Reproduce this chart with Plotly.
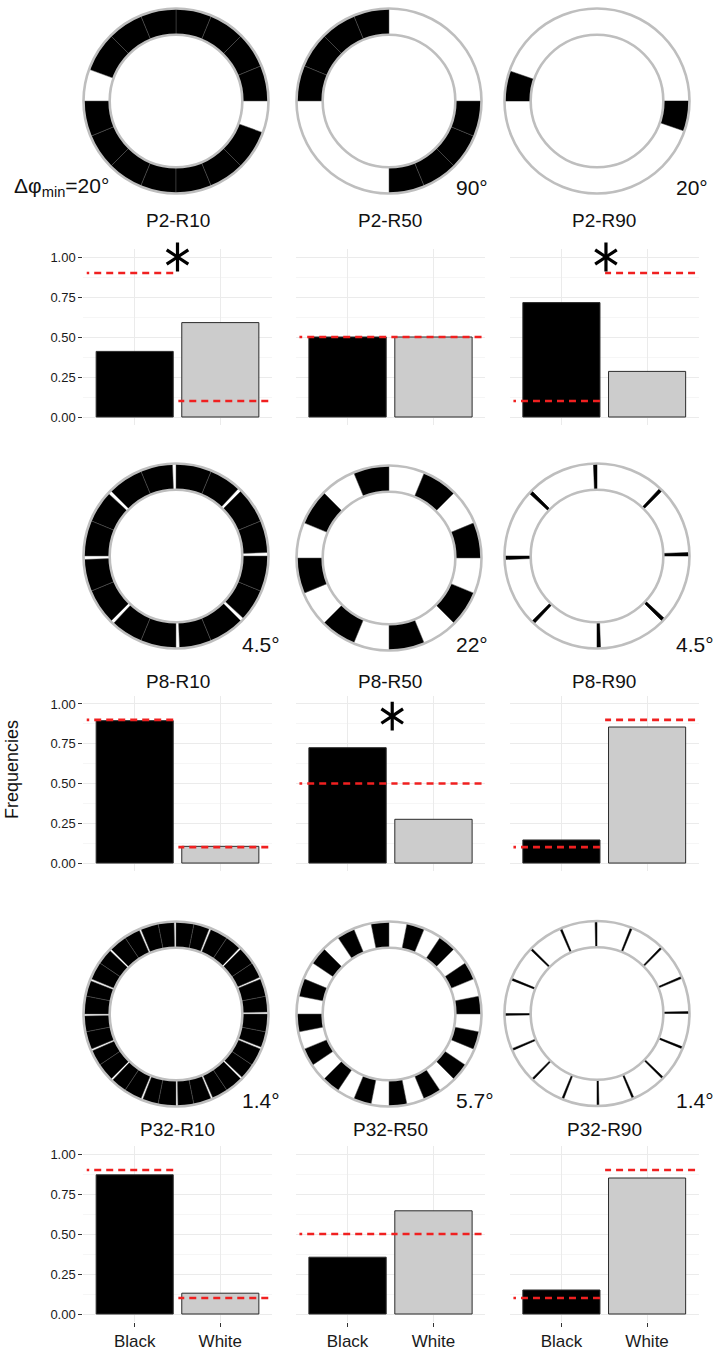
import plotly.graph_objects as go

# ---------------- data ----------------
panels = ["P2-R10", "P2-R50", "P2-R90",
          "P8-R10", "P8-R50", "P8-R90",
          "P32-R10", "P32-R50", "P32-R90"]
categories = ["Black", "White"]
black_freq = [0.41, 0.50, 0.715, 0.895, 0.725, 0.145, 0.87, 0.355, 0.15]
white_freq = [0.59, 0.50, 0.285, 0.105, 0.275, 0.855, 0.13, 0.645, 0.85]
expected_black = [0.9, 0.5, 0.1, 0.9, 0.5, 0.1, 0.9, 0.5, 0.1]
expected_white = [0.1, 0.5, 0.9, 0.1, 0.5, 0.9, 0.1, 0.5, 0.9]
significant = [True, False, True, False, True, False, False, False, False]
star_x = [1.5, 1.5, 1.52, 1.5, 1.52, 1.5, 1.5, 1.5, 1.5]
star_y = [1.0, 0.0, 1.0, 0.0, 0.924, 0.0, 0.0, 0.0, 0.0]
ring_labels = ["Δφ<sub>min</sub>=20°", "90°", "20°",
               "4.5°", "22°", "4.5°",
               "1.4°", "5.7°", "1.4°"]
y_tickvals = [0, 0.25, 0.5, 0.75, 1.0]
y_ticktext = ["0.00", "0.25", "0.50", "0.75", "1.00"]

# black ring segments (degrees, counter-clockwise from east)
p2_r10_start = [0, 22.5, 45, 67.5, 90, 112.5, 135, 180, 202.5, 225, 247.5, 270, 292.5, 315]
p2_r10_end = [22.5, 45, 67.5, 90, 112.5, 135, 160, 202.5, 225, 247.5, 270, 292.5, 315, 340]
p2_r50_start = [90, 112.5, 135, 157.5, 270, 292.5, 315, 337.5]
p2_r50_end = [112.5, 135, 157.5, 180, 292.5, 315, 337.5, 360]
p2_r90_start = [161, 341]
p2_r90_end = [180, 360]
p8_r10_start = [2.2, 22.5, 47.2, 67.5, 92.2, 112.5, 137.2, 157.5,
                182.2, 202.5, 227.2, 247.5, 272.2, 292.5, 317.2, 337.5]
p8_r10_end = [22.5, 45, 67.5, 90, 112.5, 135, 157.5, 180,
              202.5, 225, 247.5, 270, 292.5, 315, 337.5, 360]
p8_r50_start = [0, 45, 90, 135, 180, 225, 270, 315]
p8_r50_end = [22.5, 67.5, 112.5, 157.5, 202.5, 247.5, 292.5, 337.5]
p8_r90_start = [0, 45, 90, 135, 180, 225, 270, 315]
p8_r90_end = [2.2, 47.2, 92.2, 137.2, 182.2, 227.2, 272.2, 317.2]
p32_r10_start = [1.2, 11.25, 23.7, 33.75, 46.2, 56.25, 68.7, 78.75,
                 91.2, 101.25, 113.7, 123.75, 136.2, 146.25, 158.7, 168.75,
                 181.2, 191.25, 203.7, 213.75, 226.2, 236.25, 248.7, 258.75,
                 271.2, 281.25, 293.7, 303.75, 316.2, 326.25, 338.7, 348.75]
p32_r10_end = [11.25, 22.5, 33.75, 45, 56.25, 67.5, 78.75, 90,
               101.25, 112.5, 123.75, 135, 146.25, 157.5, 168.75, 180,
               191.25, 202.5, 213.75, 225, 236.25, 247.5, 258.75, 270,
               281.25, 292.5, 303.75, 315, 326.25, 337.5, 348.75, 360]
p32_r50_start = [0, 22.5, 45, 67.5, 90, 112.5, 135, 157.5,
                 180, 202.5, 225, 247.5, 270, 292.5, 315, 337.5]
p32_r50_end = [11.25, 33.75, 56.25, 78.75, 101.25, 123.75, 146.25, 168.75,
               191.25, 213.75, 236.25, 258.75, 281.25, 303.75, 326.25, 348.75]
p32_r90_start = [0, 22.5, 45, 67.5, 90, 112.5, 135, 157.5,
                 180, 202.5, 225, 247.5, 270, 292.5, 315, 337.5]
p32_r90_end = [1.2, 23.7, 46.2, 68.7, 91.2, 113.7, 136.2, 158.7,
               181.2, 203.7, 226.2, 248.7, 271.2, 293.7, 316.2, 338.7]

ring_starts = [p2_r10_start, p2_r50_start, p2_r90_start,
               p8_r10_start, p8_r50_start, p8_r90_start,
               p32_r10_start, p32_r50_start, p32_r90_start]
ring_ends = [p2_r10_end, p2_r50_end, p2_r90_end,
             p8_r10_end, p8_r50_end, p8_r90_end,
             p32_r10_end, p32_r50_end, p32_r90_end]

# ---------------- layout geometry (pixels) ----------------
W, H = 715, 1352
FONT = "Liberation Sans, Arial, Helvetica, sans-serif"
RED = "rgb(240,32,32)"


def fx(px):
    return px / W


def fy(py):
    return 1 - py / H


col_px = [(83.3, 271.7), (296.0, 485.0), (510.0, 698.5)]
row_px = [(249.0, 425.0), (696.0, 871.0), (1146.0, 1322.0)]
title_py = [220.5, 681.5, 1129.5]
ring_cx = [176.0, 389.0, 597.0]
ring_cy = [[101.0, 101.0, 101.0], [556.0, 558.0, 556.0], [1014.0, 1014.0, 1013.5]]
ring_R = 92.5
label_px = [[12, 454, 674], [240, 454, 674], [240, 454, 674]]
label_py = [187.0, 644.5, 1100.5]

fig = go.Figure()
layout = dict(
    width=W, height=H, margin=dict(l=0, r=0, t=0, b=0),
    paper_bgcolor="white", plot_bgcolor="white",
    showlegend=False, font=dict(family=FONT, color="black"),
    annotations=[],
)

for i in range(9):
    row, col = divmod(i, 3)
    sfx = "" if i == 0 else str(i + 1)
    xa, ya = "x" + sfx, "y" + sfx

    # bars
    fig.add_trace(go.Bar(
        x=[1, 2], y=[black_freq[i], white_freq[i]], width=0.9,
        marker=dict(color=["black", "#CCCCCC"], line=dict(color="#2b2b2b", width=1)),
        xaxis=xa, yaxis=ya, hoverinfo="skip"))
    # expected-value dashed lines (drawn right to left)
    fig.add_trace(go.Scatter(
        x=[1.45, 0.44], y=[expected_black[i], expected_black[i]], mode="lines",
        line=dict(color=RED, width=2.6, dash="7px,5px"),
        xaxis=xa, yaxis=ya, hoverinfo="skip"))
    fig.add_trace(go.Scatter(
        x=[2.56, 1.51], y=[expected_white[i], expected_white[i]], mode="lines",
        line=dict(color=RED, width=2.6, dash="7px,5px"),
        xaxis=xa, yaxis=ya, hoverinfo="skip"))
    if significant[i]:
        fig.add_trace(go.Scatter(
            x=[star_x[i], star_x[i]], y=[star_y[i], star_y[i]], mode="markers",
            marker=dict(symbol=["y-up-open", "y-down-open"], size=18, color="black",
                        line=dict(color="black", width=3.2)),
            cliponaxis=False, xaxis=xa, yaxis=ya, hoverinfo="skip"))

    layout["xaxis" + sfx] = dict(
        domain=[fx(col_px[col][0]), fx(col_px[col][1])], anchor=ya,
        range=[0.4, 2.6], tickvals=[1, 2], ticktext=categories,
        showgrid=True, gridcolor="#EBEBEB", gridwidth=1, zeroline=False, showline=False,
        ticks="outside" if row == 2 else "", ticklen=4, tickcolor="#333333",
        showticklabels=(row == 2), tickfont=dict(size=17, color="#1a1a1a", family=FONT),
        fixedrange=True)
    layout["yaxis" + sfx] = dict(
        domain=[fy(row_px[row][1]), fy(row_px[row][0])], anchor=xa,
        range=[-0.05, 1.05], tickvals=y_tickvals, ticktext=y_ticktext,
        showgrid=True, gridcolor="#EBEBEB", gridwidth=1, zeroline=False, showline=False,
        minor=dict(tickvals=[0.125, 0.375, 0.625, 0.875], showgrid=True,
                   gridcolor="#F6F6F6", gridwidth=0.6, ticks=""),
        ticks="outside" if col == 0 else "", ticklen=4, tickcolor="#333333",
        showticklabels=(col == 0), tickfont=dict(size=13, color="#1a1a1a", family=FONT),
        fixedrange=True)

    # ring diagram
    st, en = ring_starts[i], ring_ends[i]
    theta = [(a + b) / 2 for a, b in zip(st, en)]
    widths = [b - a for a, b in zip(st, en)]
    pname = "polar" + sfx
    edge = "black" if i % 3 == 2 else "#555555"
    fig.add_trace(go.Barpolar(
        r=[1] * len(st), theta=theta, width=widths,
        marker=dict(color="black", line=dict(color=edge, width=0.5)),
        subplot=pname, hoverinfo="skip"))
    cx, cy = ring_cx[col], ring_cy[row][col]
    layout[pname] = dict(
        domain=dict(x=[fx(cx - ring_R), fx(cx + ring_R)],
                    y=[fy(cy + ring_R), fy(cy - ring_R)]),
        hole=0.717, bgcolor="rgba(0,0,0,0)",
        radialaxis=dict(visible=False, range=[0, 1]),
        angularaxis=dict(visible=True, showline=True, linecolor="#BEBEBE", linewidth=2.6,
                         showgrid=False, showticklabels=False, ticks="",
                         rotation=0, direction="counterclockwise"))

    # titles and ring labels
    layout["annotations"].append(dict(
        text=panels[i], x=fx((col_px[col][0] + col_px[col][1]) / 2), y=fy(title_py[row]),
        xref="paper", yref="paper", xanchor="center", yanchor="middle",
        showarrow=False, font=dict(size=19, family=FONT, color="#111111")))
    layout["annotations"].append(dict(
        text=ring_labels[i], x=fx(label_px[row][col]), y=fy(label_py[row]),
        xref="paper", yref="paper", xanchor="left", yanchor="middle",
        showarrow=False, font=dict(size=21, family=FONT, color="#111111")))

layout["annotations"].append(dict(
    text="Frequencies", x=fx(12), y=fy(770), xref="paper", yref="paper",
    xanchor="center", yanchor="middle", textangle=-90, showarrow=False,
    font=dict(size=18, family=FONT, color="#111111")))

fig.update_layout(**layout)
fig.write_html("out.html")
